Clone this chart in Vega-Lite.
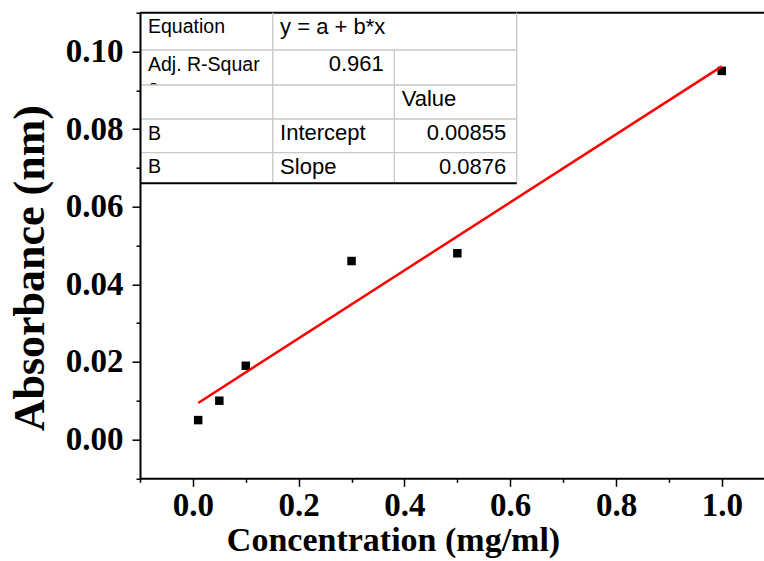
{
  "$schema": "https://vega.github.io/schema/vega-lite/v6.json",
  "width": 624,
  "height": 465.6,
  "autosize": {"type": "none"},
  "padding": {"left": 140, "top": 12.7, "right": 0, "bottom": 82.7},
  "background": "white",
  "config": {"view": {"stroke": null}},
  "datasets": {
    "absorbance": [
      {"concentration": 0.01, "absorbance": 0.005},
      {"concentration": 0.05, "absorbance": 0.010},
      {"concentration": 0.10, "absorbance": 0.019},
      {"concentration": 0.30, "absorbance": 0.046},
      {"concentration": 0.50, "absorbance": 0.048},
      {"concentration": 1.00, "absorbance": 0.095}
    ],
    "fitTable": [
      {"row": 0, "col": 0, "cell": "Equation"},
      {"row": 0, "col": 1, "cell": "y = a + b*x"},
      {"row": 1, "col": 0, "cell": "Adj. R-Squar\ne"},
      {"row": 1, "col": 1, "value": 0.961},
      {"row": 2, "col": 2, "cell": "Value"},
      {"row": 3, "col": 0, "cell": "B"},
      {"row": 3, "col": 1, "cell": "Intercept"},
      {"row": 3, "col": 2, "value": 0.00855},
      {"row": 4, "col": 0, "cell": "B"},
      {"row": 4, "col": 1, "cell": "Slope"},
      {"row": 4, "col": 2, "value": 0.0876}
    ],
    "tableHLines": [
      {"y": 1, "from": 0, "to": 3},
      {"y": 2, "from": 0, "to": 3},
      {"y": 3, "from": 0, "to": 3},
      {"y": 4, "from": 0, "to": 3},
      {"y": 5, "from": 0, "to": 3}
    ],
    "tableVLines": [
      {"x": 1, "from": 0, "to": 5},
      {"x": 2, "from": 1, "to": 5},
      {"x": 3, "from": 0, "to": 5}
    ]
  },
  "layer": [
    {
      "layer": [
        {
          "data": {"values": [{"edge": "top"}]},
          "mark": {"type": "rule", "color": "black", "strokeWidth": 2},
          "encoding": {
            "y": {"datum": 0.11, "type": "quantitative", "axis": null}
          }
        },
        {
          "data": {"name": "absorbance"},
          "mark": {"type": "square", "size": 72, "color": "black", "opacity": 1, "filled": true},
          "encoding": {
            "x": {
              "field": "concentration",
              "type": "quantitative",
              "scale": {"domain": [-0.1, 1.0798], "nice": false, "zero": false},
              "axis": {
                "orient": "bottom",
                "values": [0, 0.2, 0.4, 0.6, 0.8, 1.0],
                "format": ".1f",
                "labelFont": "Liberation Serif",
                "labelFontWeight": "bold",
                "labelFontSize": 33,
                "labelColor": "black",
                "labelPadding": 3,
                "labelOverlap": false,
                "labelFlush": false,
                "labelBound": false,
                "tickColor": "black",
                "tickWidth": 1.5,
                "tickSize": 8,
                "domainColor": "black",
                "domainWidth": 2,
                "grid": false,
                "title": "Concentration (mg/ml)",
                "titleFont": "Liberation Serif",
                "titleFontWeight": "bold",
                "titleFontSize": 34,
                "titleColor": "black",
                "titleX": 253,
                "titleY": 72,
                "titleAlign": "center",
                "titleBaseline": "alphabetic",
                "zindex": 1
              }
            },
            "y": {
              "field": "absorbance",
              "type": "quantitative",
              "scale": {"domain": [-0.01, 0.11], "nice": false, "zero": false},
              "axis": {
                "orient": "left",
                "values": [0, 0.02, 0.04, 0.06, 0.08, 0.1],
                "format": ".2f",
                "labelFont": "Liberation Serif",
                "labelFontWeight": "bold",
                "labelFontSize": 33,
                "labelColor": "black",
                "labelPadding": 9,
                "labelOverlap": false,
                "labelFlush": false,
                "labelBound": false,
                "tickColor": "black",
                "tickWidth": 1.5,
                "tickSize": 8,
                "domainColor": "black",
                "domainWidth": 2,
                "grid": false,
                "title": "Absorbance (nm)",
                "titleFont": "Liberation Serif",
                "titleFontWeight": "bold",
                "titleFontSize": 44,
                "titleColor": "black",
                "titleX": -97,
                "titleY": 255,
                "titleAlign": "center",
                "titleBaseline": "alphabetic",
                "zindex": 1
              }
            }
          }
        },
        {
          "data": {"name": "absorbance"},
          "transform": [
            {"regression": "absorbance", "on": "concentration", "method": "linear"}
          ],
          "mark": {"type": "line", "color": "#ff0000", "strokeWidth": 2.5},
          "encoding": {
            "x": {
              "field": "concentration",
              "type": "quantitative",
              "axis": {
                "orient": "bottom",
                "values": [-0.1, 0.1, 0.3, 0.5, 0.7, 0.9],
                "labels": false,
                "domain": false,
                "grid": false,
                "tickColor": "black",
                "tickWidth": 1.5,
                "tickSize": 4,
                "title": null,
                "zindex": 1
              }
            },
            "y": {
              "field": "absorbance",
              "type": "quantitative",
              "axis": {
                "orient": "left",
                "values": [-0.01, 0.01, 0.03, 0.05, 0.07, 0.09, 0.11],
                "labels": false,
                "domain": false,
                "grid": false,
                "tickColor": "black",
                "tickWidth": 1.5,
                "tickSize": 4,
                "title": null,
                "zindex": 1
              }
            }
          }
        }
      ],
      "resolve": {"axis": {"x": "independent", "y": "independent"}}
    },
    {
      "layer": [
        {
          "data": {"name": "fitTable"},
          "transform": [{"filter": "datum.col == 0"}],
          "mark": {"type": "text", "align": "left", "baseline": "alphabetic", "dx": 8, "dy": 20.5, "font": "Liberation Sans", "fontSize": 19.5, "lineBreak": "\n", "lineHeight": 23.5, "color": "black"},
          "encoding": {
            "x": {"field": "col", "type": "quantitative", "scale": {"domain": [0, 1, 2, 3], "range": [0, 132.7, 254.3, 376.7], "nice": false, "zero": false}, "axis": null},
            "y": {"field": "row", "type": "quantitative", "scale": {"domain": [0, 1, 2, 3, 4, 5], "range": [0, 37.3, 72.3, 106.3, 140, 170.6], "nice": false, "zero": false}, "axis": null},
            "text": {"field": "cell", "type": "nominal"}
          }
        },
        {
          "data": {"name": "fitTable"},
          "transform": [{"filter": "datum.col > 0 && isValid(datum.cell)"}],
          "mark": {"type": "text", "align": "left", "baseline": "alphabetic", "dx": 7.4, "dy": 21, "font": "Liberation Sans", "fontSize": 22, "color": "black"},
          "encoding": {
            "x": {"field": "col", "type": "quantitative", "scale": {"domain": [0, 1, 2, 3], "range": [0, 132.7, 254.3, 376.7], "nice": false, "zero": false}, "axis": null},
            "y": {"field": "row", "type": "quantitative", "scale": {"domain": [0, 1, 2, 3, 4, 5], "range": [0, 37.3, 72.3, 106.3, 140, 170.6], "nice": false, "zero": false}, "axis": null},
            "text": {"field": "cell", "type": "nominal"}
          }
        },
        {
          "data": {"name": "fitTable"},
          "transform": [
            {"filter": "isValid(datum.value)"},
            {"calculate": "datum.col + 1", "as": "colEnd"}
          ],
          "mark": {"type": "text", "align": "right", "baseline": "alphabetic", "dx": -10.5, "dy": 21, "font": "Liberation Sans", "fontSize": 22, "color": "black"},
          "encoding": {
            "x": {"field": "colEnd", "type": "quantitative", "scale": {"domain": [0, 1, 2, 3], "range": [0, 132.7, 254.3, 376.7], "nice": false, "zero": false}, "axis": null},
            "y": {"field": "row", "type": "quantitative", "scale": {"domain": [0, 1, 2, 3, 4, 5], "range": [0, 37.3, 72.3, 106.3, 140, 170.6], "nice": false, "zero": false}, "axis": null},
            "text": {"field": "value", "type": "nominal"}
          }
        },
        {
          "data": {"values": [{"col": 0, "colEnd": 1, "row": 2, "rowEnd": 3}]},
          "mark": {"type": "rect", "fill": "white"},
          "encoding": {
            "x": {"field": "col", "type": "quantitative", "scale": {"domain": [0, 1, 2, 3], "range": [0, 132.7, 254.3, 376.7], "nice": false, "zero": false}, "axis": null},
            "x2": {"field": "colEnd"},
            "y": {"field": "row", "type": "quantitative", "scale": {"domain": [0, 1, 2, 3, 4, 5], "range": [0, 37.3, 72.3, 106.3, 140, 170.6], "nice": false, "zero": false}, "axis": null},
            "y2": {"field": "rowEnd"}
          }
        },
        {
          "data": {"name": "tableHLines"},
          "transform": [{"filter": "datum.y < 5"}],
          "mark": {"type": "rule", "color": "#c8c8c8", "strokeWidth": 1.3},
          "encoding": {
            "x": {"field": "from", "type": "quantitative", "scale": {"domain": [0, 1, 2, 3], "range": [0, 132.7, 254.3, 376.7], "nice": false, "zero": false}, "axis": null},
            "x2": {"field": "to"},
            "y": {"field": "y", "type": "quantitative", "scale": {"domain": [0, 1, 2, 3, 4, 5], "range": [0, 37.3, 72.3, 106.3, 140, 170.6], "nice": false, "zero": false}, "axis": null}
          }
        },
        {
          "data": {"name": "tableVLines"},
          "mark": {"type": "rule", "color": "#c8c8c8", "strokeWidth": 1.3},
          "encoding": {
            "x": {"field": "x", "type": "quantitative", "scale": {"domain": [0, 1, 2, 3], "range": [0, 132.7, 254.3, 376.7], "nice": false, "zero": false}, "axis": null},
            "y": {"field": "from", "type": "quantitative", "scale": {"domain": [0, 1, 2, 3, 4, 5], "range": [0, 37.3, 72.3, 106.3, 140, 170.6], "nice": false, "zero": false}, "axis": null},
            "y2": {"field": "to"}
          }
        },
        {
          "data": {"name": "tableHLines"},
          "transform": [{"filter": "datum.y == 5"}],
          "mark": {"type": "rule", "color": "black", "strokeWidth": 2},
          "encoding": {
            "x": {"field": "from", "type": "quantitative", "scale": {"domain": [0, 1, 2, 3], "range": [0, 132.7, 254.3, 376.7], "nice": false, "zero": false}, "axis": null},
            "x2": {"field": "to"},
            "y": {"field": "y", "type": "quantitative", "scale": {"domain": [0, 1, 2, 3, 4, 5], "range": [0, 37.3, 72.3, 106.3, 140, 170.6], "nice": false, "zero": false}, "axis": null}
          }
        }
      ]
    }
  ],
  "resolve": {"scale": {"x": "independent", "y": "independent"}}
}
